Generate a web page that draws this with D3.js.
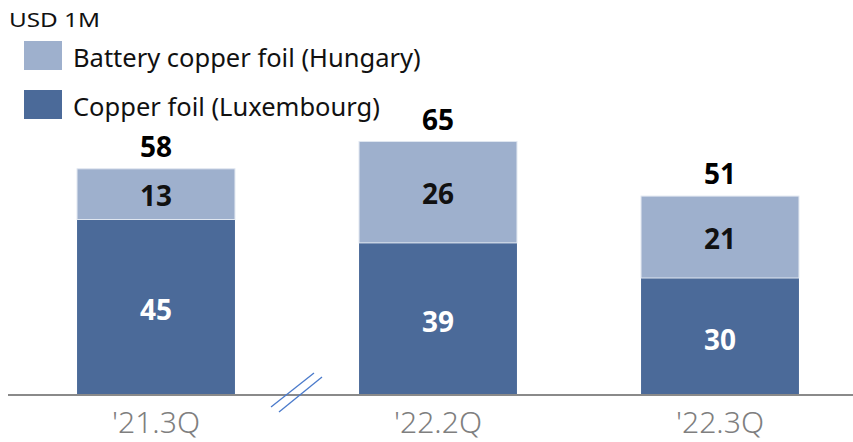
<!DOCTYPE html>
<html><head><meta charset="utf-8">
<script src="https://cdn.jsdelivr.net/npm/d3@7"></script>
<style>body{margin:0;background:#fff}svg{display:block}</style>
</head><body>
<svg id="c" width="853" height="442"></svg>
<script>
const categories = ["'21.3Q", "'22.2Q", "'22.3Q"];
const luxembourg = [45, 39, 30];
const hungary = [13, 26, 21];
const totals = [58, 65, 51];
const seriesNames = ["Battery copper foil (Hungary)", "Copper foil (Luxembourg)"];
const unitLabel = "USD 1M";

const colLight = "#9eb0cd", colDark = "#4b6a99";
const font = "'Noto Sans', 'Open Sans', sans-serif";
const svg = d3.select("#c");

const x = d3.scaleBand().domain(categories).range([15, 861]).paddingInner(0.44).paddingOuter(0.22);
const y = d3.scaleLinear().domain([0, 65]).range([395, 141.5]);

const data = categories.map((c, i) => ({c, lux: luxembourg[i], hun: hungary[i], tot: totals[i]}));

const g = svg.append("g");
g.selectAll(".lux").data(data).join("rect")
  .attr("x", d => x(d.c)).attr("width", x.bandwidth())
  .attr("y", d => y(d.lux)).attr("height", d => y(0) - y(d.lux))
  .attr("fill", colDark);
g.selectAll(".hun").data(data).join("rect")
  .attr("x", d => x(d.c)).attr("width", x.bandwidth())
  .attr("y", d => y(d.lux + d.hun)).attr("height", d => y(d.lux) - y(d.lux + d.hun))
  .attr("fill", colLight).attr("stroke", "#dfe6f0").attr("stroke-width", 1);

g.selectAll(".luxl").data(data).join("text")
  .attr("x", d => x(d.c) + x.bandwidth()/2).attr("y", d => (y(0) + y(d.lux))/2 + 13)
  .attr("text-anchor", "middle").attr("font-family", font).attr("font-weight", "bold")
  .attr("font-size", 28).attr("fill", "#fff").text(d => d.lux);
g.selectAll(".hunl").data(data).join("text")
  .attr("x", d => x(d.c) + x.bandwidth()/2).attr("y", d => (y(d.lux) + y(d.lux + d.hun))/2 + 12)
  .attr("text-anchor", "middle").attr("font-family", font).attr("font-weight", "bold")
  .attr("font-size", 28).attr("fill", "#111").text(d => d.hun);
g.selectAll(".totl").data(data).join("text")
  .attr("x", d => x(d.c) + x.bandwidth()/2).attr("y", d => y(d.tot) - 12)
  .attr("text-anchor", "middle").attr("font-family", font).attr("font-weight", "bold")
  .attr("font-size", 28).attr("fill", "#000").text(d => d.tot);

const ax = svg.append("g").attr("transform", `translate(0,${y(0)})`)
  .call(d3.axisBottom(x).tickSize(0).tickPadding(0));
ax.select(".domain").attr("d", "M8,0H853").attr("stroke", "#8a8a8a").attr("stroke-width", 2);
ax.selectAll(".tick text").attr("font-family", font).attr("font-size", 30).attr("font-weight", 300)
  .attr("fill", "#7f7f7f").attr("dy", null).attr("y", 38)
  .attr("textLength", 88).attr("lengthAdjust", "spacingAndGlyphs");

svg.append("line").attr("x1", 271).attr("y1", 407).attr("x2", 314).attr("y2", 373)
  .attr("stroke", "#4a7acb").attr("stroke-width", 1.3);
svg.append("line").attr("x1", 279).attr("y1", 412).attr("x2", 322).attr("y2", 377)
  .attr("stroke", "#4a7acb").attr("stroke-width", 1.3);

svg.append("text").attr("x", 9).attr("y", 27).attr("font-family", font).attr("font-size", 20)
  .attr("fill", "#111").attr("textLength", 91).attr("lengthAdjust", "spacingAndGlyphs").text(unitLabel);
const leg = svg.append("g");
[colLight, colDark].forEach((c, i) => {
  leg.append("rect").attr("x", 24).attr("y", 41 + i*49).attr("width", 38).attr("height", 29).attr("fill", c);
  leg.append("text").attr("x", 73).attr("y", 67 + i*49).attr("font-family", font).attr("font-size", 25.5)
    .attr("fill", "#111").text(seriesNames[i]);
});
</script>
</body></html>
